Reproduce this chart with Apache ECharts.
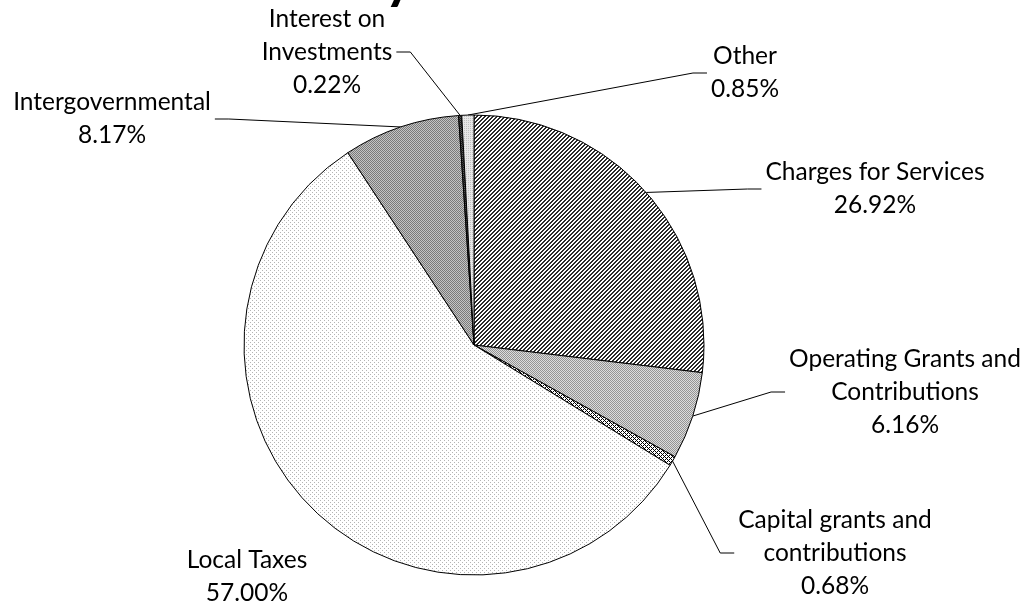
<!DOCTYPE html>
<html><head><meta charset="utf-8">
<script src="https://cdn.jsdelivr.net/npm/echarts@6/dist/echarts.min.js"></script>
<style>html,body{margin:0;padding:0;background:#fff}#c{width:1031px;height:601px}</style>
</head><body><div id="c"></div>
<script>
// ---- data ----
const categories = ['Charges for Services', 'Operating Grants and\nContributions', 'Capital grants and\ncontributions', 'Local Taxes', 'Intergovernmental', 'Interest on\nInvestments', 'Other'];
const percentValues = [26.92, 6.16, 0.68, 57.00, 8.17, 0.22, 0.85];
const titleText = 'Revenues by Source';

// ---- layout (label anchor centres, px) ----
const labelSpots = [
  { x: 875, y: 189, side: 'right', line: true },
  { x: 905, y: 392, side: 'right', line: true },
  { x: 835, y: 553, side: 'right', line: true },
  { x: 247, y: 577, side: 'left', line: false },
  { x: 112, y: 119, side: 'left', line: true },
  { x: 327, y: 52, side: 'left', line: true },
  { x: 745, y: 73, side: 'right', line: true }
];

function pattern(size, fn) {
  const c = document.createElement('canvas');
  c.width = c.height = size;
  const g = c.getContext('2d');
  for (let y = 0; y < size; y++) for (let x = 0; x < size; x++) {
    g.fillStyle = fn(x, y); g.fillRect(x, y, 1, 1);
  }
  return { image: c, repeat: 'repeat' };
}
const fills = [
  pattern(4, (x, y) => ((x + y) % 4 < 2 ? '#2a2a2a' : '#ffffff')),
  pattern(2, (x, y) => ((x + y) % 2 === 0 ? '#949494' : '#dcdcdc')),
  pattern(4, (x, y) => (((x + y) % 4 === 0 || ((x - y + 8) % 4) === 0) ? '#000000' : '#ffffff')),
  pattern(4, (x, y) => ((x % 2 === 0 && y % 2 === 0 && (x + y) % 4 === 0) ? '#b4b4b4' : '#ffffff')),
  pattern(2, (x, y) => ((x + y) % 2 === 0 ? '#7a7a7a' : '#c4c4c4')),
  pattern(2, (x, y) => ((x + y) % 2 === 0 ? '#1a1a1a' : '#5a5a5a')),
  pattern(2, (x, y) => ((x === 0 && y === 0) ? '#c0c0c0' : '#e8e8e8'))
];

const chart = echarts.init(document.getElementById('c'), null, { renderer: 'canvas' });

// measure title so the visible "y" lands like the reference
const titleFont = 'bold 56px Lato';
const mc = document.createElement('canvas').getContext('2d');
mc.font = titleFont;
const prefixW = mc.measureText(titleText.slice(0, titleText.indexOf('y'))).width;

chart.setOption({
  animation: false,
  backgroundColor: '#ffffff',
  graphic: [{
    type: 'text', x: 385 - prefixW, y: 8, silent: true,
    style: { text: titleText, font: titleFont, fill: '#000', textAlign: 'left', textVerticalAlign: 'bottom' }
  }],
  series: [{
    type: 'pie',
    center: [474, 345],
    radius: 230,
    startAngle: 90,
    clockwise: true,
    avoidLabelOverlap: false,
    minShowLabelAngle: 0,
    emphasis: { disabled: true },
    itemStyle: { borderColor: '#000', borderWidth: 1 },
    label: {
      show: true,
      position: 'outside',
      color: '#000',
      fontFamily: 'Lato',
      fontSize: 24.5,
      lineHeight: 33,
      align: 'center',
      formatter: p => p.name + '\n' + percentValues[p.dataIndex].toFixed(2) + '%'
    },
    labelLine: { show: true, length: 10, length2: 10, smooth: false, lineStyle: { color: '#000', width: 1 } },
    labelLayout: function (params) {
      const s = labelSpots[params.dataIndex];
      const w = params.labelRect.width;
      const res = { x: s.x, y: s.y, align: 'center', verticalAlign: 'middle' };
      if (s.line && params.labelLinePoints) {
        const start = params.labelLinePoints[0];
        const endX = s.side === 'right' ? s.x - w / 2 - 4 : s.x + w / 2 + 4;
        const elbowX = s.side === 'right' ? endX - 14 : endX + 14;
        res.labelLinePoints = [[start[0], start[1]], [elbowX, s.y], [endX, s.y]];
      }
      return res;
    },
    data: categories.map((name, i) => ({
      name: name,
      value: percentValues[i],
      itemStyle: { color: fills[i] },
      labelLine: { show: labelSpots[i].line }
    }))
  }]
});
</script></body></html>
